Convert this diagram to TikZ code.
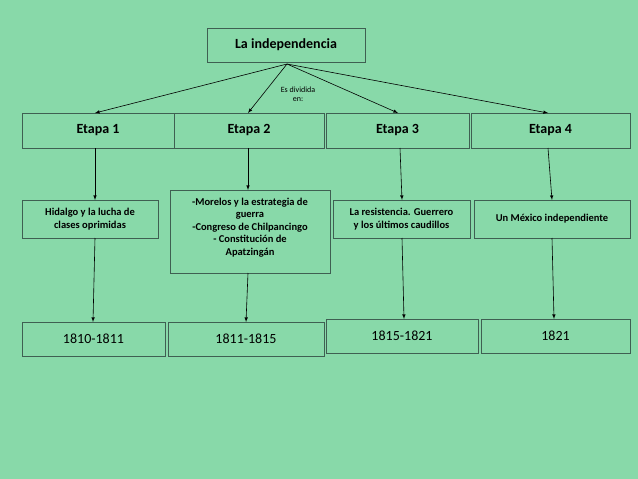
\documentclass[tikz,border=0pt]{standalone}
\usepackage{fontspec}
\usetikzlibrary{calc}
\setmainfont{Carlito}
\definecolor{bg}{HTML}{88D9A9}
\definecolor{bd}{HTML}{3F5F52}
\begin{document}
\begin{tikzpicture}[x=1pt,y=-1pt,
  box/.style={draw=bd,line width=0.6pt,fill=bg,inner sep=1pt},
  tb/.style={align=center,font=\bfseries\fontsize{10.5}{12.5}\selectfont},
  tbig/.style={font=\bfseries\fontsize{14}{16}\selectfont},
  tdate/.style={font=\fontsize{14}{16}\selectfont},
  arr/.style={-latex,black,line width=0.6pt}]
\fill[bg] (0,0) rectangle (638,479);
\useasboundingbox (0,0) rectangle (638,479);
\newcommand{\bx}[5]{\node[box,minimum width=#4-#2,minimum height=#5-#3] (#1) at ({(#2+#4)/2},{(#3+#5)/2}) {};}
\bx{t}{207}{28}{365}{62}
\node[tbig] at (t) {La independencia};
\bx{e1}{22}{113}{174}{148}\node[tbig] at (e1){Etapa 1};
\bx{e2}{174}{113}{324}{148}\node[tbig] at (e2){Etapa 2};
\bx{e3}{326}{113}{469}{148}\node[tbig] at (e3){Etapa 3};
\bx{e4}{471}{113}{630}{148}\node[tbig] at (e4){Etapa 4};
\bx{m1}{22}{200}{158}{238}\node[tb] at (m1){Hidalgo y la lucha de\\clases oprimidas};
\bx{m2}{170}{190}{330}{273}\node[tb] at ($(m2)+(0,-4)$){-Morelos y la estrategia de\\guerra\\-Congreso de Chilpancingo\\- Constitución de\\Apatzingán};
\bx{m3}{333}{200}{470}{238}\node[tb] at (m3){La resistencia. Guerrero\\y los últimos caudillos};
\bx{m4}{474}{200}{630}{238}\node[tb] at (m4){Un México independiente};
\bx{b1}{22}{322}{165}{356}\node[tdate] at (b1){1810-1811};
\bx{b2}{168}{322}{324}{356}\node[tdate] at (b2){1811-1815};
\bx{b3}{326}{319}{478}{353}\node[tdate] at (b3){1815-1821};
\bx{b4}{481}{319}{630}{353}\node[tdate] at (b4){1821};
\node[align=center,font=\fontsize{8}{9}\selectfont] (lbl) at (298,94) {Es dividida\\en:};
\coordinate (o) at (287,64);
\draw[arr] (o) -- (95,113);
\draw[arr] (o) -- (248,113);
\draw[arr] (o) -- (398,113);
\draw[arr] (o) -- (548,113);
\draw[arr] (95,148) -- (95,200);
\draw[arr] (248,148) -- (248,190);
\draw[arr] (400,148) -- (402,200);
\draw[arr] (548,148) -- (552,200);
\draw[arr] (95,238) -- (93,322);
\draw[arr] (248,273) -- (246,322);
\draw[arr] (402,238) -- (404,319);
\draw[arr] (552,238) -- (554,319);
\end{tikzpicture}
\end{document}
